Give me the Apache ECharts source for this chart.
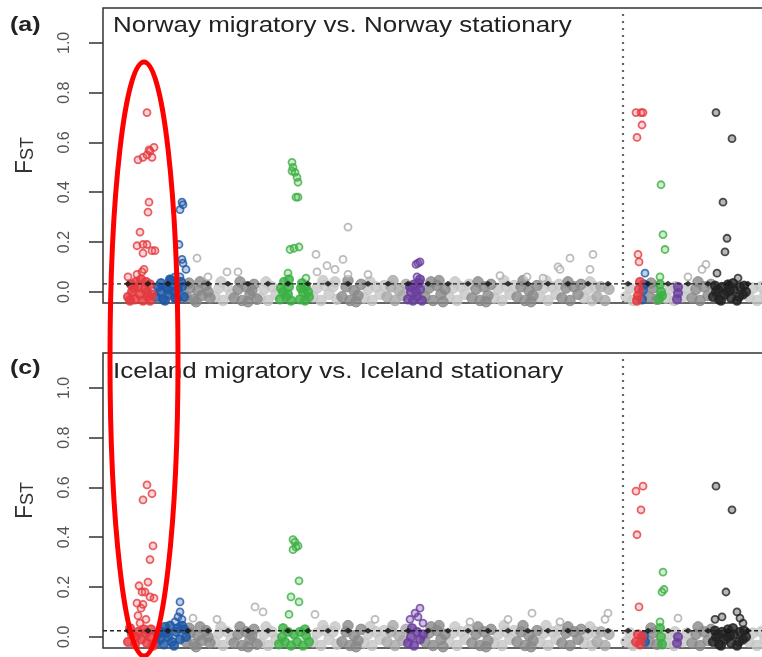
<!DOCTYPE html>
<html><head><meta charset="utf-8">
<script src="https://cdn.jsdelivr.net/npm/echarts@6/dist/echarts.min.js"></script>
<style>html,body{margin:0;padding:0;background:#fff}#c{width:762px;height:657px}</style>
</head><body><div id="c"></div>
<script>
// ---- tick labels / thresholds ----
const yTicks = [0, 0.2, 0.4, 0.6, 0.8, 1.0];
const thresholdA = 0.032;
const thresholdC = 0.024;
const thresholdXs = [128,148,168,188,208,228,248,268,288,308,328,348,368,388,408,428,448,468,488,508,528,548,568,588,608,628,648,668,688,708,728,748,768];
const splitPos = 623; // boundary between autosomes and Z

// ---- background band (non-significant windows), alternating chromosome shades ----
const bandDark = [
 [186,-0.02],[190,0.015],[194,-0.03],[198,0.005],[202,-0.015],[206,0.025],[210,-0.025],[189,0.035],[200,0.04],[208,0.0],[196,-0.04],
 [234,-0.025],[238,0.01],[242,-0.035],[246,0.02],[250,-0.01],[254,0.03],[257,-0.03],[240,0.04],[248,-0.04],[252,0.005],
 [342,-0.02],[346,0.02],[350,-0.035],[354,0.005],[358,-0.015],[361,0.03],[348,0.045],[356,-0.04],
 [425,-0.02],[429,0.015],[433,-0.035],[437,0.025],[441,-0.01],[445,0.01],[431,0.04],[443,-0.04],[439,0.045],
 [472,-0.025],[476,0.01],[480,-0.035],[484,0.02],[488,-0.015],[491,0.03],[478,0.04],[486,-0.04],
 [517,-0.02],[521,0.02],[525,-0.035],[529,0.005],[533,-0.015],[537,0.025],[523,0.045],[531,-0.04],
 [562,-0.025],[566,0.015],[570,-0.035],[574,0.02],[578,-0.01],[581,0.03],[568,0.04],
 [649,-0.02],[653,0.015],[657,-0.03],[651,0.035],
 [692,-0.025],[696,0.01],[700,-0.035],[704,0.02],[708,-0.015],[711,0.03],[698,0.04]
];
const bandMid = [
 [387,-0.02],[391,0.02],[395,-0.035],[399,0.005],[403,-0.015],[406,0.03],[393,0.045],
 [597,-0.02],[601,0.02],[605,-0.035],[609,0.01]
];
const bandLight = [
 [215,-0.02],[219,0.015],[223,-0.035],[227,0.02],[231,-0.01],[221,0.04],
 [260,-0.025],[264,0.01],[268,-0.035],[272,0.02],[276,-0.01],[266,0.04],
 [313,-0.02],[317,0.015],[321,-0.035],[325,0.025],[329,-0.01],[333,0.02],[337,-0.03],[323,0.045],[335,0.04],
 [364,-0.025],[368,0.01],[372,-0.035],[376,0.02],[380,-0.01],[384,0.025],[370,0.04],
 [449,-0.02],[453,0.015],[457,-0.035],[461,0.02],[465,-0.01],[469,0.03],[455,0.04],
 [494,-0.025],[498,0.01],[502,-0.035],[506,0.02],[510,-0.01],[514,0.025],[504,0.045],
 [540,-0.02],[544,0.015],[548,-0.035],[552,0.02],[556,-0.01],[559,0.03],[546,0.045],
 [584,-0.025],[588,0.01],[592,-0.035],[595,0.02],[590,0.04],
 [626,-0.02],[630,0.015],[633,-0.035],
 [666,-0.025],[670,0.01],[674,-0.035],[675,0.02],
 [683,-0.02],[687,0.015],
 [749,-0.02],[753,0.015],[757,-0.035],[761,0.02],[765,-0.01]
];

// ---- panel (a): Norway migratory vs. Norway stationary ----
const grayA = [[197,0.135],[227,0.08],[238,0.08],[208,0.06],[316,0.15],[348,0.26],[327,0.105],[335,0.09],[343,0.13],[317,0.08],[348,0.07],[368,0.07],[500,0.065],[527,0.06],[543,0.055],[570,0.135],[593,0.15],[558,0.1],[560,0.09],[590,0.09],[706,0.11],[702,0.09],[688,0.06]];
const redA = [[147,0.72],[138,0.53],[143,0.54],[147,0.55],[150,0.565],[154,0.58],[152,0.54],[149,0.57],[149,0.36],[148,0.32],[140,0.24],[137,0.185],[143,0.19],[147,0.19],[143,0.155],[152,0.165],[155,0.165],[137,0.07],[142,0.08],[144,0.09],[128,0.06],
 [128,-0.02],[132,0.0],[135,-0.03],[138,0.02],[140,-0.01],[143,-0.035],[145,0.01],[148,-0.02],[150,0.03],[152,-0.01],[131,0.03],[136,0.04],[146,0.04],[141,0.05],[130,-0.035],[150,-0.035],[134,0.015],[147,0.0],
 [636,0.72],[641,0.72],[643,0.72],[642,0.67],[637,0.62],[638,0.15],[639,0.12],[640,0.04],[638,-0.015],[637,-0.035],[639,0.01]];
const blueA = [[182,0.36],[183,0.35],[180,0.33],[179,0.19],[182,0.13],[183,0.115],[186,0.09],[180,0.06],[170,0.05],[175,0.06],
 [156,-0.02],[160,0.0],[163,-0.03],[166,0.02],[169,-0.01],[172,0.03],[175,-0.025],[178,0.01],[181,0.04],[184,-0.02],[158,0.02],[165,-0.035],[171,0.045],[177,-0.03],[182,0.02],[161,0.035],[168,0.01],[174,0.0],
 [645,0.075],[643,0.008],[642,-0.03],[644,0.03]];
const greenA = [[292,0.52],[293,0.50],[295,0.48],[292,0.485],[297,0.46],[298,0.44],[296,0.38],[298,0.38],[290,0.17],[294,0.175],[299,0.18],[288,0.075],[306,0.055],[289,0.05],
 [280,-0.03],[283,0.0],[286,-0.02],[289,0.02],[284,0.04],[291,-0.035],[281,0.015],[288,-0.01],[300,-0.03],[303,0.0],[306,0.02],[309,-0.02],[302,0.035],[305,-0.035],[308,0.0],[301,0.015],
 [661,0.43],[663,0.23],[665,0.17],[660,0.06],[660,0.03],[661,0.0],[659,-0.03],[662,-0.015]];
const purpleA = [[418,0.115],[420,0.12],[416,0.11],[417,0.06],[420,0.05],
 [408,-0.03],[411,0.0],[414,0.03],[417,-0.02],[420,0.01],[422,-0.035],[410,0.02],[416,0.0],[413,-0.035],[419,0.035],
 [678,0.02],[678,-0.005],[677,-0.03]];
const blackA = [[716,0.72],[732,0.615],[723,0.36],[727,0.215],[725,0.16],[717,0.075],[738,0.055],
 [713,-0.02],[716,0.0],[719,-0.03],[722,0.02],[725,-0.01],[728,0.03],[731,-0.025],[734,0.01],[737,-0.035],[740,0.02],[743,-0.01],[746,0.0],[715,0.025],[721,-0.035],[727,0.0],[733,0.035],[739,-0.02],[744,0.025],[718,0.01],[730,0.005]];

// ---- panel (c): Iceland migratory vs. Iceland stationary ----
const grayC = [[255,0.12],[263,0.1],[315,0.09],[193,0.075],[217,0.07],[375,0.07],[532,0.095],[508,0.07],[608,0.095],[605,0.07],[678,0.075],[470,0.06],[560,0.06]];
const redC = [[147,0.61],[152,0.575],[143,0.55],[153,0.365],[150,0.31],[148,0.22],[139,0.205],[142,0.18],[145,0.18],[150,0.16],[154,0.155],[137,0.135],[143,0.13],[141,0.115],[138,0.085],[140,0.055],[146,0.07],
 [128,-0.02],[132,0.01],[135,-0.03],[138,0.02],[141,-0.01],[144,0.03],[147,-0.025],[150,0.0],[153,-0.035],[130,0.035],[136,0.0],[146,0.015],[151,0.03],
 [636,0.585],[643,0.605],[641,0.51],[637,0.41],[639,0.12],[638,0.01],[636,-0.02],[640,-0.03],[642,0.0]];
const blueC = [[180,0.14],[180,0.1],[178,0.08],[182,0.07],[175,0.06],[170,0.045],[165,0.04],
 [156,-0.025],[160,-0.01],[164,-0.03],[168,0.0],[172,-0.02],[176,0.02],[180,-0.01],[184,0.03],[158,0.01],[166,0.015],[174,-0.035],[182,0.045],[178,0.035],[162,0.02],[186,0.0],
 [645,-0.02],[644,0.005]];
const greenC = [[293,0.39],[295,0.38],[298,0.365],[293,0.35],[296,0.36],[299,0.225],[291,0.16],[299,0.14],[289,0.09],
 [279,-0.03],[282,0.0],[285,-0.02],[288,0.02],[291,-0.035],[294,0.01],[297,-0.02],[300,0.02],[303,-0.035],[306,0.005],[309,-0.02],[283,0.035],[305,0.03],
 [663,0.26],[662,0.18],[664,0.19],[660,0.06],[660,0.035],[661,0.0],[662,-0.03]];
const purpleC = [[420,0.115],[415,0.095],[410,0.07],[423,0.055],[418,0.08],
 [408,-0.025],[411,0.0],[414,-0.035],[417,0.02],[420,-0.01],[423,0.01],[412,0.035],
 [678,0.0],[677,-0.025]];
const blackC = [[716,0.605],[732,0.51],[726,0.18],[722,0.08],[715,0.07],[737,0.1],[740,0.075],[743,0.055],
 [713,-0.02],[716,0.0],[719,-0.03],[722,0.02],[725,-0.01],[728,0.03],[731,-0.025],[734,0.01],[737,-0.035],[740,0.02],[743,-0.01],[746,0.0],[715,0.025],[721,-0.035],[727,0.0],[733,0.035],[739,-0.02],[744,0.025],[718,0.01],[730,0.005]];

const titleA = 'Norway migratory vs. Norway stationary';
const titleC = 'Iceland migratory vs. Iceland stationary';

// ---- chart ----
const FONT = 'Arial, "Liberation Sans", sans-serif';
const Y_MIN = -0.045, Y_MAX = 1.14, X_MIN = 103, X_MAX = 783;

function band(data, color, g) {
  return {type:'scatter', xAxisIndex:g, yAxisIndex:g, data, symbol:'circle', symbolSize:10.5,
    itemStyle:{color, borderColor:color, borderWidth:1}, silent:true};
}
// open rings; windows inside the dense base (FST <= 0.05) overlap into a solid mass
function ring(data, color, fill, g) {
  return {type:'scatter', xAxisIndex:g, yAxisIndex:g, symbol:'circle', symbolSize:7,
    data:data.map(p => p[1] <= 0.05 ? {value:p, itemStyle:{color:color}, symbolSize:8.5} : {value:p}),
    itemStyle:{color:fill, borderColor:color, borderWidth:1.8}, silent:true};
}
function panelSeries(g, d, thr) {
  return [
    band(bandLight, '#c6c6c6', g),
    band(bandMid, '#a6a6a6', g),
    band(bandDark, '#888888', g),
    ring(d.gray, '#aaaaaa', 'rgba(255,255,255,0.6)', g),
    ring(d.blue, '#1f57a4', 'rgba(31,87,164,0.35)', g),
    ring(d.red, '#e5393f', 'rgba(229,57,63,0.25)', g),
    ring(d.green, '#3cb043', 'rgba(60,176,67,0.3)', g),
    ring(d.purple, '#6a3f9e', 'rgba(106,63,158,0.4)', g),
    ring(d.black, '#222222', 'rgba(30,30,30,0.4)', g),
    {type:'line', xAxisIndex:g, yAxisIndex:g, data:[[X_MIN,thr],[X_MAX,thr]], showSymbol:false, symbol:'none',
      lineStyle:{color:'#222', width:1.4, type:[4,3]}, silent:true},
    {type:'scatter', xAxisIndex:g, yAxisIndex:g, data:thresholdXs.map(x=>[x,thr]), symbol:'diamond', symbolSize:[8,6],
      itemStyle:{color:'#111'}, silent:true},
    {type:'line', xAxisIndex:g, yAxisIndex:g, data:[[splitPos,Y_MIN],[splitPos,Y_MAX]], showSymbol:false, symbol:'none',
      lineStyle:{color:'#666', width:2.2, type:[2,5]}, silent:true}
  ];
}

function yAx(g) {
  return {
    gridIndex:g, type:'value', min:Y_MIN, max:Y_MAX,
    axisLine:{show:false}, splitLine:{show:false},
    axisTick:{show:true, customValues:yTicks, length:14, lineStyle:{color:'#333', width:1.5}},
    axisLabel:{customValues:yTicks, rotate:90, margin:30, fontSize:16, color:'#555', fontFamily:FONT,
      formatter:v=>v.toFixed(1)},
    name:'{f|F}{s|ST}', nameLocation:'middle', nameRotate:90, nameGap:66,
    nameTextStyle:{rich:{
      f:{fontSize:23, color:'#333', fontFamily:FONT, verticalAlign:'bottom'},
      s:{fontSize:18, color:'#333', fontFamily:FONT, verticalAlign:'bottom'}}}
  };
}

const chart = echarts.init(document.getElementById('c'), null, {renderer:'canvas'});
chart.setOption({
  animation:false,
  backgroundColor:'#fff',
  grid:[
    {left:X_MIN, top:8, width:X_MAX-X_MIN, height:295, show:true, borderColor:'#333', borderWidth:1.5, outerBoundsMode:'none', containLabel:false},
    {left:X_MIN, top:353, width:X_MAX-X_MIN, height:295, show:true, borderColor:'#333', borderWidth:1.5, outerBoundsMode:'none', containLabel:false}
  ],
  xAxis:[
    {gridIndex:0, type:'value', min:X_MIN, max:X_MAX, show:false},
    {gridIndex:1, type:'value', min:X_MIN, max:X_MAX, show:false}
  ],
  yAxis:[yAx(0), yAx(1)],
  series:[
    ...panelSeries(0, {gray:grayA, red:redA, blue:blueA, green:greenA, purple:purpleA, black:blackA}, thresholdA),
    ...panelSeries(1, {gray:grayC, red:redC, blue:blueC, green:greenC, purple:purpleC, black:blackC}, thresholdC)
  ],
  graphic:[
    {type:'text', x:10, y:25, scaleX:1.25, style:{text:'(a)', font:'bold 20px '+FONT, fill:'#222', align:'left', verticalAlign:'middle'}},
    {type:'text', x:113, y:26, scaleX:1.18, style:{text:titleA, font:'22px '+FONT, fill:'#222', align:'left', verticalAlign:'middle'}},
    {type:'text', x:10, y:368, scaleX:1.25, style:{text:'(c)', font:'bold 20px '+FONT, fill:'#222', align:'left', verticalAlign:'middle'}},
    {type:'text', x:113, y:372, scaleX:1.18, style:{text:titleC, font:'22px '+FONT, fill:'#222', align:'left', verticalAlign:'middle'}},
    {type:'ellipse', z:100, shape:{cx:144, cy:359, rx:34, ry:297}, style:{fill:null, stroke:'#ff0000', lineWidth:5}}
  ]
});
</script></body></html>
